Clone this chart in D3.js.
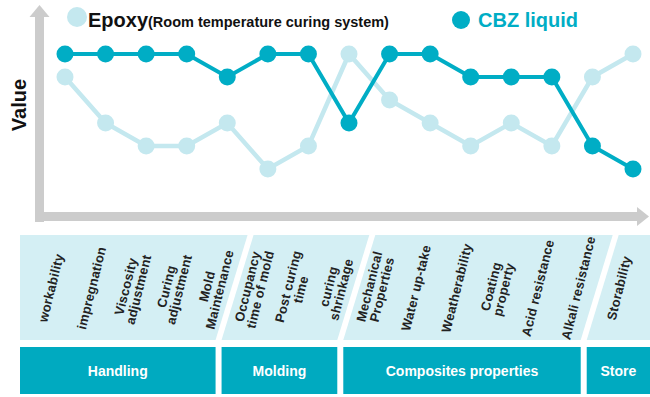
<!DOCTYPE html>
<html>
<head>
<meta charset="utf-8">
<script src="https://cdn.jsdelivr.net/npm/d3@7"></script>
<style>
  html, body { margin: 0; padding: 0; background: #fff; }
  svg { display: block; font-family: "Liberation Sans", Arial, sans-serif; }
</style>
</head>
<body>
<div id="chart"></div>
<script>
// categories (line breaks as sub-arrays)
const categories = [
  ['workability'], ['impregnation'], ['Viscosity', 'adjustment'], ['Curing', 'adjustment'],
  ['Mold', 'Maintenance'], ['Occupancy', 'time of mold'], ['Post curing', 'time'],
  ['curing', 'shrinkage'], ['Mechanical', 'Properties'], ['Water up-take'], ['Weatherability'],
  ['Coating', 'property'], ['Acid resistance'], ['Alkali resistance'], ['Storability']
];
const epoxyValues = [5, 3, 2, 2, 3, 1, 2, 6, 4, 3, 2, 3, 2, 5, 6];
const cbzValues = [6, 6, 6, 6, 5, 6, 6, 3, 6, 6, 5, 5, 5, 2, 1];
const groupNames = ['Handling', 'Molding', 'Composites properties', 'Store'];
const groupSizes = [5, 3, 6, 1];

const width = 650;
const height = 397;
const axisColor = '#cccccc';
const epoxyColor = '#c4e8ef';
const cbzColor = '#00adc5';
const panelColor = '#d4eff4';
const boxColor = '#00aac0';

const svg = d3.select('#chart').append('svg')
  .attr('width', width).attr('height', height)
  .attr('viewBox', `0 0 ${width} ${height}`);

const x = d3.scaleLinear().domain([0, categories.length - 1]).range([65, 633]);
const y = d3.scaleLinear().domain([1, 6]).range([169, 54]);

// axes (thick gray arrows)
const axes = svg.append('g').attr('fill', axisColor);
axes.append('rect').attr('x', 35).attr('y', 16).attr('width', 9).attr('height', 206);
axes.append('polygon').attr('points', '29.5,17 39.5,5 49.5,17');
axes.append('rect').attr('x', 35).attr('y', 212).attr('width', 603).attr('height', 9);
axes.append('polygon').attr('points', '637,207 649,216.5 637,226');

svg.append('text')
  .attr('transform', 'translate(26,105) rotate(-90)')
  .attr('text-anchor', 'middle')
  .attr('font-size', 20).attr('font-weight', 'bold').attr('fill', '#111')
  .text('Value');

// legend
const legend = svg.append('g');
legend.append('circle').attr('cx', 77).attr('cy', 17).attr('r', 10).attr('fill', epoxyColor);
const epoxyLabel = legend.append('text').attr('x', 88).attr('y', 27).attr('font-weight', 'bold').attr('fill', '#111');
epoxyLabel.append('tspan').attr('font-size', 20).text('Epoxy');
epoxyLabel.append('tspan').attr('font-size', 14.5).text('(Room temperature curing system)');
legend.append('circle').attr('cx', 461).attr('cy', 20).attr('r', 9).attr('fill', cbzColor);
legend.append('text').attr('x', 478).attr('y', 27).attr('font-size', 20).attr('font-weight', 'bold')
  .attr('fill', cbzColor).text('CBZ liquid');

// lines
const line = d3.line().x((d, i) => x(i)).y((d) => y(d));
[[epoxyValues, epoxyColor, 4.5], [cbzValues, cbzColor, 4]].forEach(([values, color, w]) => {
  const g = svg.append('g');
  g.append('path').attr('d', line(values)).attr('fill', 'none').attr('stroke', color).attr('stroke-width', w);
  g.selectAll('circle').data(values).enter().append('circle')
    .attr('cx', (d, i) => x(i)).attr('cy', (d) => y(d)).attr('r', 8.5).attr('fill', color);
});

// group panels
const panelTop = 235;
const panelBottom = 340;
const slant = 32;
let start = 0;
const groups = groupNames.map((name, gi) => {
  const end = start + groupSizes[gi] - 1;
  const g = { name, start, end };
  start = end + 1;
  return g;
});
groups.forEach((g, gi) => {
  const left = gi === 0 ? null : (x(g.start - 1) + x(g.start)) / 2;
  const right = gi === groups.length - 1 ? null : (x(g.end) + x(g.end + 1)) / 2;
  const tl = left === null ? 20 : left + 6;
  const bl = left === null ? 20 : left + 6 - slant;
  const tr = right === null ? width : right;
  const br = right === null ? width : right - slant;
  svg.append('polygon')
    .attr('points', `${tl},${panelTop} ${tr},${panelTop} ${br},${panelBottom} ${bl},${panelBottom}`)
    .attr('fill', panelColor);
  svg.append('rect').attr('x', bl).attr('y', 347).attr('width', br - bl).attr('height', 47).attr('fill', boxColor);
  svg.append('text').attr('x', (bl + br) / 2).attr('y', 376).attr('text-anchor', 'middle')
    .attr('font-size', 14).attr('font-weight', 'bold').attr('fill', '#fff').text(g.name);
});

// category labels
const labels = svg.append('g').selectAll('text').data(categories).enter().append('text')
  .attr('transform', (d, i) => `translate(${x(i) - 14},288) rotate(-76)`)
  .attr('text-anchor', 'middle')
  .attr('font-size', 13).attr('font-weight', 'bold').attr('letter-spacing', 0.2)
  .attr('fill', '#222');
labels.each(function (d) {
  const t = d3.select(this);
  d.forEach((s, j) => {
    t.append('tspan').attr('x', 0).attr('y', (j - (d.length - 1) / 2) * 13 + 4.5).text(s);
  });
});
</script>
</body>
</html>
